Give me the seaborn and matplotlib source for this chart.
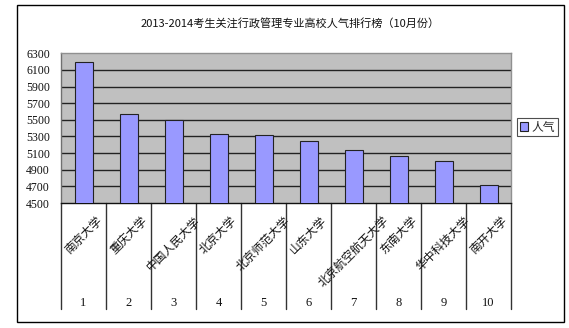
import matplotlib
matplotlib.use("Agg")
import matplotlib.pyplot as plt
import seaborn as sns
import pandas as pd
from matplotlib.patches import Rectangle, Patch

# ---- data ----
title = "2013-2014考生关注行政管理专业高校人气排行榜（10月份）"
universities = ["南京大学", "重庆大学", "中国人民大学", "北京大学", "北京师范大学",
                "山东大学", "北京航空航天大学", "东南大学", "华中科技大学", "南开大学"]
ranks = ["1", "2", "3", "4", "5", "6", "7", "8", "9", "10"]
popularity = [6195, 5576, 5496, 5328, 5320, 5248, 5136, 5064, 5000, 4712]
series_name = "人气"
y_ticks = [4500, 4700, 4900, 5100, 5300, 5500, 5700, 5900, 6100, 6300]

sns.set_theme(style="white")
plt.rcParams['font.family'] = ['Noto Sans CJK SC', 'DejaVu Sans']

df = pd.DataFrame({"rank": ranks, "value": popularity})

W, H = 569, 328
fig = plt.figure(figsize=(W / 100, H / 100), dpi=100)
fig.patch.set_facecolor("white")

# chart frame
fig.patches.append(Rectangle((17 / W, 1 - 321.7 / H), (564 - 17) / W, (321.7 - 4.5) / H,
                             transform=fig.transFigure, fill=False,
                             edgecolor="black", linewidth=1.0, zorder=0))

ax = fig.add_axes([61 / W, 1 - 203 / H, (511 - 61) / W, (203 - 53.3) / H])
ax.set_facecolor("#c0c0c0")

sns.barplot(data=df, x="rank", y="value", ax=ax, width=0.4, color="#9999ff",
            edgecolor="#222222", linewidth=0.8, saturation=1, zorder=3)

ax.set_ylim(y_ticks[0], y_ticks[-1])
ax.set_yticks(y_ticks)
ax.set_yticklabels([str(t) for t in y_ticks], fontsize=8.5, color="#111111",
                   family=["Liberation Serif"])
ax.tick_params(axis="y", length=0, pad=8)
ax.set_xlim(-0.5, len(ranks) - 0.5)
ax.set_xticks([])
ax.set_xlabel("")
ax.set_ylabel("")
for t in y_ticks[1:-1]:
    ax.axhline(t, color="#222222", linewidth=1.0, zorder=1)

for s in ["top", "right"]:
    ax.spines[s].set_color("#909090")
    ax.spines[s].set_linewidth(1.0)
ax.spines["left"].set_color("#707070")
ax.spines["left"].set_linewidth(1.0)
ax.spines["bottom"].set_color("#111111")
ax.spines["bottom"].set_linewidth(1.0)

# category table below the plot: separators, rotated names, rank numbers
xt = ax.get_xaxis_transform()
sep_bottom = (203 - 309) / (203 - 53.3)
for i in range(len(ranks) + 1):
    ax.plot([i - 0.5, i - 0.5], [0, sep_bottom], color="#333333", linewidth=1.0,
            transform=xt, clip_on=False)
name_top = (203 - 214) / (203 - 53.3)
num_y = (203 - 303) / (203 - 53.3)
for i, (name, rk) in enumerate(zip(universities, ranks)):
    ax.text(i, name_top, name, rotation=45, ha="center", va="top",
            fontsize=8.5, transform=xt, color="#111111")
    ax.text(i, num_y, rk, ha="center", va="center", fontsize=9,
            transform=xt, color="#111111", family=["Liberation Serif"])

fig.text(290 / W, 1 - 23 / H, title, ha="center", va="center", fontsize=8,
         color="#111111")

leg = fig.legend(handles=[Patch(facecolor="#9999ff", edgecolor="#222222", linewidth=0.8,
                                label=series_name)],
                 loc="center", bbox_to_anchor=(537.5 / W, 1 - 127 / H),
                 frameon=True, fontsize=8.5, handlelength=0.7, handleheight=0.7,
                 handletextpad=0.3, borderpad=0.25, fancybox=False, borderaxespad=0)
leg.get_frame().set_edgecolor("#222222")
leg.get_frame().set_linewidth(0.8)

fig.savefig("out.png", dpi=100)
